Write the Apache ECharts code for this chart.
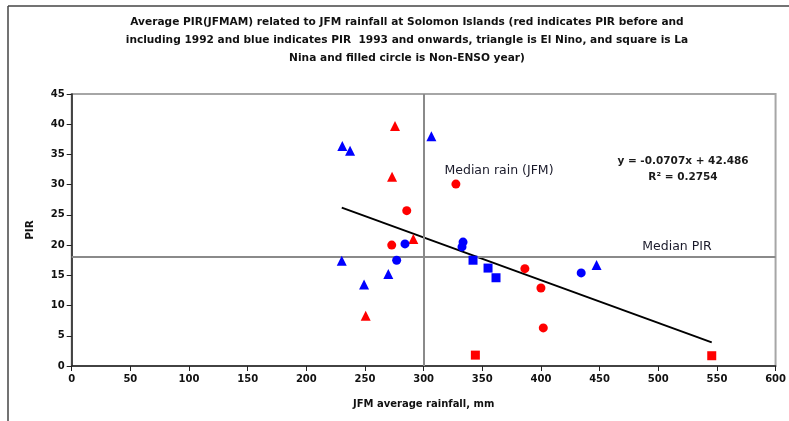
<!DOCTYPE html>
<html>
<head>
<meta charset="utf-8">
<script src="https://cdn.jsdelivr.net/npm/echarts@6/dist/echarts.min.js"></script>
<style>
  html, body { margin: 0; padding: 0; background: #fff; }
  #main { width: 789px; height: 421px; }
</style>
</head>
<body>
<div id="main"></div>
<script>
// PIR vs JFM rainfall: [rainfall mm, PIR]
const redElNino = [[275.6, 39.7], [273.1, 31.3], [291.2, 21.0], [250.6, 8.3]];
const redNeutral = [[327.5, 30.1], [285.6, 25.7], [272.8, 20.0], [386.3, 16.1], [400.0, 12.9], [402.0, 6.3]];
const redLaNina = [[344.1, 1.8], [545.6, 1.7]];
const blueElNino = [[306.6, 38.0], [230.7, 36.4], [237.3, 35.6], [230.2, 17.4], [269.9, 15.2], [249.2, 13.5], [447.4, 16.7]];
const blueNeutral = [[284.1, 20.2], [333.6, 20.5], [332.7, 19.7], [277.0, 17.5], [434.3, 15.4]];
const blueLaNina = [[342.1, 17.5], [354.9, 16.2], [361.7, 14.6]];

// trendline as printed on the chart: y = slope * x + intercept
const trendCoef = [-0.0707, 42.486];
const medianRain = 300;
const medianPIR = 18;

const xTicks = [0, 600, 50];
const yTicks = [0, 45, 5];

const allPts = [].concat(redElNino, redNeutral, redLaNina, blueElNino, blueNeutral, blueLaNina);
const xs = allPts.map(p => p[0]);
const xMin = Math.min.apply(null, xs);
const xMax = Math.max.apply(null, xs);
const trendLine = [xMin, xMax].map(x => [x, trendCoef[0] * x + trendCoef[1]]);

const RED = '#ff0000';
const BLUE = '#0000ff';
const FONT = 'DejaVu Sans, Verdana, sans-serif';

function dots(name, data, color, symbol, size) {
  return {
    name: name,
    type: 'scatter',
    data: data,
    symbol: symbol,
    symbolSize: size,
    itemStyle: { color: color, opacity: 1 },
    z: 5
  };
}

const chart = echarts.init(document.getElementById('main'));
chart.setOption({
  animation: false,
  backgroundColor: '#fff',
  title: {
    text: 'Average PIR(JFMAM) related to JFM rainfall at Solomon Islands (red indicates PIR before and\n' +
          'including 1992 and blue indicates PIR  1993 and onwards, triangle is El Nino, and square is La\n' +
          'Nina and filled circle is Non-ENSO year)',
    left: 402,
    top: 8,
    textAlign: 'center',
    textStyle: { fontFamily: FONT, fontSize: 10.6, fontWeight: 'bold', color: '#111', lineHeight: 18 }
  },
  grid: {
    left: 71.7, right: 13.3, top: 94, bottom: 55,
    show: true, borderColor: '#a6a6a6', borderWidth: 2, backgroundColor: 'transparent'
  },
  xAxis: {
    type: 'value',
    min: xTicks[0], max: xTicks[1], interval: xTicks[2],
    name: 'JFM average rainfall, mm',
    nameLocation: 'middle',
    nameGap: 33,
    nameTextStyle: { fontFamily: FONT, fontSize: 10, fontWeight: 'bold', color: '#111' },
    axisLine: { show: true, onZero: false, lineStyle: { color: '#222', width: 1.5 } },
    axisTick: { show: true, length: 5, lineStyle: { color: '#222' } },
    axisLabel: { fontFamily: FONT, fontSize: 10, fontWeight: 'bold', color: '#111', margin: 8 },
    splitLine: { show: false }
  },
  yAxis: {
    type: 'value',
    min: yTicks[0], max: yTicks[1], interval: yTicks[2],
    name: 'PIR',
    nameLocation: 'middle',
    nameGap: 36,
    nameTextStyle: { fontFamily: FONT, fontSize: 10.5, fontWeight: 'bold', color: '#111' },
    axisLine: { show: true, onZero: false, lineStyle: { color: '#222', width: 1.5 } },
    axisTick: { show: true, length: 5, lineStyle: { color: '#222' } },
    axisLabel: { fontFamily: FONT, fontSize: 10, fontWeight: 'bold', color: '#111', margin: 7 },
    splitLine: { show: false }
  },
  series: [
    {
      name: 'medians',
      type: 'line',
      data: [],
      markLine: {
        silent: true,
        symbol: 'none',
        label: { show: false },
        lineStyle: { color: '#8a8a8a', width: 2, type: 'solid' },
        data: [{ xAxis: medianRain }, { yAxis: medianPIR }]
      },
      z: 1
    },
    {
      name: 'trend',
      type: 'line',
      data: trendLine,
      symbol: 'none',
      lineStyle: { color: '#000', width: 2 },
      z: 3
    },
    dots('red El Nino', redElNino, RED, 'triangle', 10),
    dots('red Non-ENSO', redNeutral, RED, 'circle', 9),
    dots('red La Nina', redLaNina, RED, 'rect', 9),
    dots('blue El Nino', blueElNino, BLUE, 'triangle', 10),
    dots('blue Non-ENSO', blueNeutral, BLUE, 'circle', 9),
    dots('blue La Nina', blueLaNina, BLUE, 'rect', 9)
  ],
  graphic: [
    { type: 'line', shape: { x1: 8, y1: 6, x2: 789, y2: 6 }, style: { stroke: '#444', lineWidth: 1.5 } },
    { type: 'line', shape: { x1: 8, y1: 6, x2: 8, y2: 421 }, style: { stroke: '#444', lineWidth: 1.5 } },
    {
      type: 'text', x: 499, y: 171,
      style: { text: 'Median rain (JFM)', fontFamily: FONT, fontSize: 12.5, fill: '#1a1a2a', align: 'center', verticalAlign: 'middle' }
    },
    {
      type: 'text', x: 677, y: 247,
      style: { text: 'Median PIR', fontFamily: FONT, fontSize: 12.5, fill: '#1a1a2a', align: 'center', verticalAlign: 'middle' }
    },
    {
      type: 'text', x: 683, y: 169,
      style: {
        text: 'y = -0.0707x + 42.486\nR² = 0.2754',
        fontFamily: FONT, fontSize: 10.5, fontWeight: 'bold', fill: '#1a1a1a',
        align: 'center', verticalAlign: 'middle', lineHeight: 16
      }
    }
  ]
});
</script>
</body>
</html>
